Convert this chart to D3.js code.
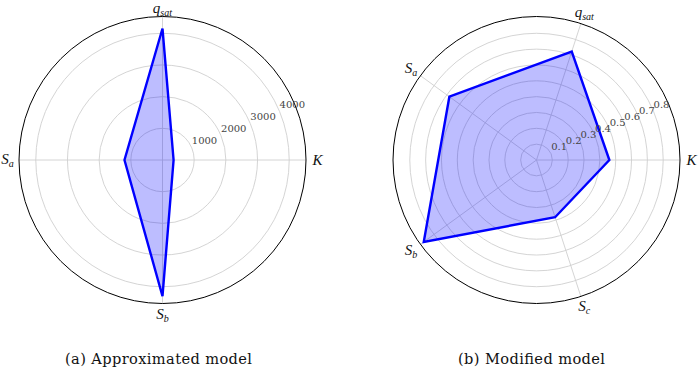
<!DOCTYPE html>
<html>
<head>
<meta charset="utf-8">
<script src="https://cdn.jsdelivr.net/npm/d3@7"></script>
<style>
  html, body { margin: 0; padding: 0; background: #ffffff; }
  svg { display: block; }
</style>
</head>
<body>
<svg id="chart" width="700" height="373"></svg>
<script>
// ---- data ----
const leftCategories = ["K", "q_sat", "S_a", "S_b"];
const leftValues = [350, 4150, 1200, 4300];
const leftTicks = [1000, 2000, 3000, 4000];
const leftTickLabels = ["1000", "2000", "3000", "4000"];
const leftRMax = 4530;

const rightCategories = ["K", "q_sat", "S_a", "S_b", "S_c"];
const rightValues = [0.46, 0.72, 0.68, 0.88, 0.38];
const rightTicks = [0.1, 0.2, 0.3, 0.4, 0.5, 0.6, 0.7, 0.8];
const rightTickLabels = ["0.1", "0.2", "0.3", "0.4", "0.5", "0.6", "0.7", "0.8"];
const rightRMax = 0.906;

const captions = ["(a) Approximated model", "(b) Modified model"];

// ---- layout ----
const svg = d3.select("#chart");
const R = 143.5;
const cy = 160;
const panels = [
  { cx: 162.5, cats: leftCategories, vals: leftValues, ticks: leftTicks, tickLabels: leftTickLabels, rmax: leftRMax, caption: captions[0], capX: 158.5, capW: 187 },
  { cx: 536.5, cats: rightCategories, vals: rightValues, ticks: rightTicks, tickLabels: rightTickLabels, rmax: rightRMax, caption: captions[1], capX: 531.5, capW: 147 }
];

const serif = "'DejaVu Serif', 'Liberation Serif', serif";
const mathFont = "'Liberation Serif', 'DejaVu Serif', serif";

panels.forEach(p => {
  const g = svg.append("g").attr("transform", `translate(${p.cx},${cy})`);
  const r = d3.scaleLinear().domain([0, p.rmax]).range([0, R]);
  const n = p.cats.length;
  const theta = i => 2 * Math.PI * i / n; // ccw from east

  // grid rings
  g.selectAll("circle.ring").data(p.ticks).join("circle")
    .attr("class", "ring")
    .attr("r", d => r(d))
    .attr("fill", "none")
    .attr("stroke", "#cfcfcf")
    .attr("stroke-width", 0.9);

  // spokes
  g.selectAll("line.spoke").data(p.cats).join("line")
    .attr("class", "spoke")
    .attr("x1", 0).attr("y1", 0)
    .attr("x2", (d, i) => R * Math.cos(theta(i)))
    .attr("y2", (d, i) => -R * Math.sin(theta(i)))
    .attr("stroke", "#cfcfcf")
    .attr("stroke-width", 0.9);

  // polygon
  const line = d3.lineRadial()
    .angle((d, i) => Math.PI / 2 - theta(i))
    .radius(d => r(d))
    .curve(d3.curveLinearClosed);

  g.append("path")
    .datum(p.vals)
    .attr("d", line)
    .attr("fill", "rgba(0,0,255,0.26)")
    .attr("stroke", "none");

  g.append("path")
    .datum(p.vals)
    .attr("d", line)
    .attr("fill", "none")
    .attr("stroke", "#0000ff")
    .attr("stroke-width", 2.4)
    .attr("stroke-linejoin", "miter");

  // outer circle
  g.append("circle")
    .attr("r", R)
    .attr("fill", "none")
    .attr("stroke", "#000")
    .attr("stroke-width", 1);

  // radial tick labels at 22.5 deg
  const la = 22.5 * Math.PI / 180;
  g.selectAll("text.rtick").data(p.ticks).join("text")
    .attr("class", "rtick")
    .attr("x", d => r(d) * Math.cos(la))
    .attr("y", d => -r(d) * Math.sin(la) - 3.5)
    .attr("text-anchor", "start")
    .attr("font-family", serif)
    .attr("font-size", 10)
    .attr("fill", "#444")
    .text((d, i) => p.tickLabels[i]);

  // category labels
  p.cats.forEach((c, i) => {
    const parts = c.split("_");
    const t = g.append("text")
      .attr("font-family", mathFont)
      .attr("font-style", "italic")
      .attr("font-size", 15)
      .attr("fill", "#111");
    t.append("tspan").text(parts[0]);
    if (parts[1]) {
      t.append("tspan")
        .attr("font-size", 10)
        .attr("dy", 3)
        .text(parts[1]);
    }
    const bb = t.node().getBBox();
    const d = 155;
    const tx = d * Math.cos(theta(i));
    let ty = -d * Math.sin(theta(i));
    const ox = tx - (bb.x + bb.width / 2);
    let oy = ty - (bb.y + bb.height / 2);
    const topAbs = cy + bb.y + oy;
    if (topAbs < 0) oy += 0 - topAbs;
    t.attr("transform", `translate(${ox},${oy})`);
  });

  // caption
  const cap = svg.append("text")
    .attr("x", p.capX)
    .attr("y", 364)
    .attr("text-anchor", "middle")
    .attr("font-family", serif)
    .attr("font-size", 14.6)
    .attr("fill", "#111")
    .text(p.caption);
  const w = cap.node().getComputedTextLength();
  if (Math.abs(w - p.capW) > 2) {
    cap.attr("textLength", p.capW).attr("lengthAdjust", "spacing");
  }
});
</script>
</body>
</html>
